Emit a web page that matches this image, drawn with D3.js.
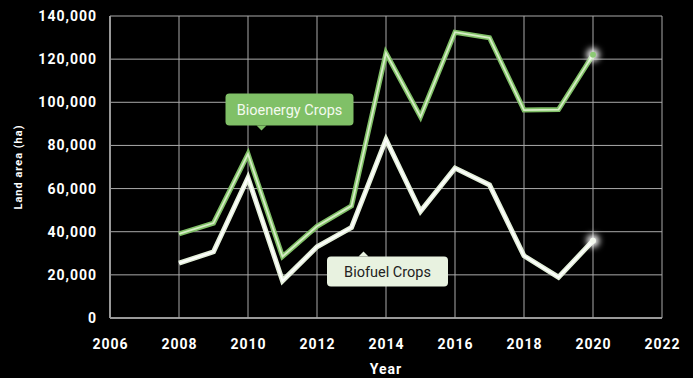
<!DOCTYPE html>
<html>
<head>
    <script src="https://d3js.org/d3.v7.min.js"></script>
    <style type="text/css">
        body { margin: 0; background: #000; }
        svg { display: block; }
        .tick text {
            font-family: Roboto, sans-serif;
            font-weight: bold;
            font-size: 14px;
            letter-spacing: 1px;
            fill: #fff;
        }
        .axis-title {
            font-family: Roboto, sans-serif;
            font-weight: bold;
            fill: #fff;
            letter-spacing: 1px;
        }
        .note {
            font-family: Roboto, sans-serif;
            font-size: 14.5px;
        }
    </style>
</head>
<body>
    <svg id="chart" width="693" height="378"></svg>
    <script>
        var years = [2008, 2009, 2010, 2011, 2012, 2013, 2014, 2015, 2016, 2017, 2018, 2019, 2020];
        var bioenergy = [39000, 44000, 76000, 28500, 42500, 52000, 122800, 93300, 132500, 129900, 96400, 96600, 122000];
        var biofuel = [25400, 30700, 65000, 17200, 33000, 42000, 82800, 49500, 69500, 61700, 28800, 18900, 35800];
        var yTicks = [0, 20000, 40000, 60000, 80000, 100000, 120000, 140000];
        var xTicks = [2006, 2008, 2010, 2012, 2014, 2016, 2018, 2020, 2022];

        var margin = { top: 16, right: 31, bottom: 60, left: 110 },
            width = 693 - margin.left - margin.right,
            height = 378 - margin.top - margin.bottom;

        var svg = d3.select("#chart");
        var defs = svg.append("defs");
        var glow = defs.append("filter").attr("id", "glow")
            .attr("x", "-100%").attr("y", "-100%").attr("width", "300%").attr("height", "300%");
        glow.append("feGaussianBlur").attr("stdDeviation", 3);

        var g = svg.append("g")
            .attr("transform", "translate(" + margin.left + "," + margin.top + ")");

        var x = d3.scaleLinear().domain([2006, 2022]).range([0, width]);
        var y = d3.scaleLinear().domain([0, 140000]).range([height, 0]);

        // grid
        g.append("g")
            .selectAll("line.h")
            .data(yTicks)
            .enter().append("line")
                .attr("x1", 0).attr("x2", width)
                .attr("y1", function(d) { return y(d); })
                .attr("y2", function(d) { return y(d); })
                .attr("stroke", function(d) { return d == 0 ? "#999" : "#aaa"; })
                .attr("stroke-width", function(d) { return d == 0 ? 2 : 1; });
        g.append("g")
            .selectAll("line.v")
            .data(xTicks)
            .enter().append("line")
                .attr("y1", 0).attr("y2", height)
                .attr("x1", function(d) { return x(d); })
                .attr("x2", function(d) { return x(d); })
                .attr("stroke", function(d) { return d == 2006 ? "#999" : "#aaa"; })
                .attr("stroke-width", function(d) { return d == 2006 ? 2 : 1; });

        // axes (labels only)
        var yAxis = g.append("g")
            .call(d3.axisLeft(y).tickValues(yTicks).tickFormat(d3.format(",")).tickSize(0).tickPadding(13));
        yAxis.select(".domain").remove();
        var xAxis = g.append("g")
            .attr("transform", "translate(0," + height + ")")
            .call(d3.axisBottom(x).tickValues(xTicks).tickFormat(d3.format("d")).tickSize(0).tickPadding(21));
        xAxis.select(".domain").remove();

        g.append("text").attr("class", "axis-title")
            .attr("x", width / 2).attr("y", height + 56)
            .attr("text-anchor", "middle").style("font-size", "14px")
            .text("Year");
        g.append("text").attr("class", "axis-title")
            .attr("transform", "translate(" + (-88) + "," + (height / 2) + ") rotate(-90)")
            .attr("text-anchor", "middle").style("font-size", "11px")
            .text("Land area (ha)");

        var line = d3.line()
            .x(function(d, i) { return x(years[i]); })
            .y(function(d) { return y(d); });

        function drawSeries(values, outer, inner, dot) {
            g.append("path").datum(values)
                .attr("d", line).attr("fill", "none")
                .attr("stroke", outer).attr("stroke-width", 5)
                .attr("stroke-linejoin", "miter");
            g.append("path").datum(values)
                .attr("d", line).attr("fill", "none")
                .attr("stroke", inner).attr("stroke-width", 1.8)
                .attr("stroke-linejoin", "miter");
            var last = values.length - 1;
            g.append("circle")
                .attr("cx", x(years[last])).attr("cy", y(values[last]))
                .attr("r", 6.5).attr("fill", "#fff").attr("filter", "url(#glow)");
            g.append("circle")
                .attr("cx", x(years[last])).attr("cy", y(values[last]))
                .attr("r", 3).attr("fill", dot);
        }

        drawSeries(bioenergy, "#80c067", "#d6edc6", "#8cc974");
        drawSeries(biofuel, "#e4f0da", "#ffffff", "#f4f9ef");

        // annotations
        function note(cx, cy, w, h, tipX, tipUp, fill, color, label) {
            var n = g.append("g");
            var x0 = cx - w / 2, y0 = cy - h / 2;
            n.append("rect")
                .attr("x", x0).attr("y", y0).attr("width", w).attr("height", h)
                .attr("rx", 4).attr("fill", fill);
            var ty = tipUp ? y0 : y0 + h;
            var d = tipUp ? -5 : 5;
            n.append("path")
                .attr("d", "M" + (tipX - 5) + "," + ty + "L" + tipX + "," + (ty + d) + "L" + (tipX + 5) + "," + ty + "Z")
                .attr("fill", fill);
            n.append("text").attr("class", "note")
                .attr("x", cx).attr("y", cy + 5)
                .attr("text-anchor", "middle").attr("fill", color)
                .text(label);
        }

        note(289.5 - margin.left, 109.5 - margin.top, 128, 32, 261.5 - margin.left, false, "#80c067", "#f4faef", "Bioenergy Crops");
        note(387.5 - margin.left, 271.5 - margin.top, 121, 30, 363.5 - margin.left, true, "#e8f2e0", "#222", "Biofuel Crops");
    </script>
</body>
</html>
